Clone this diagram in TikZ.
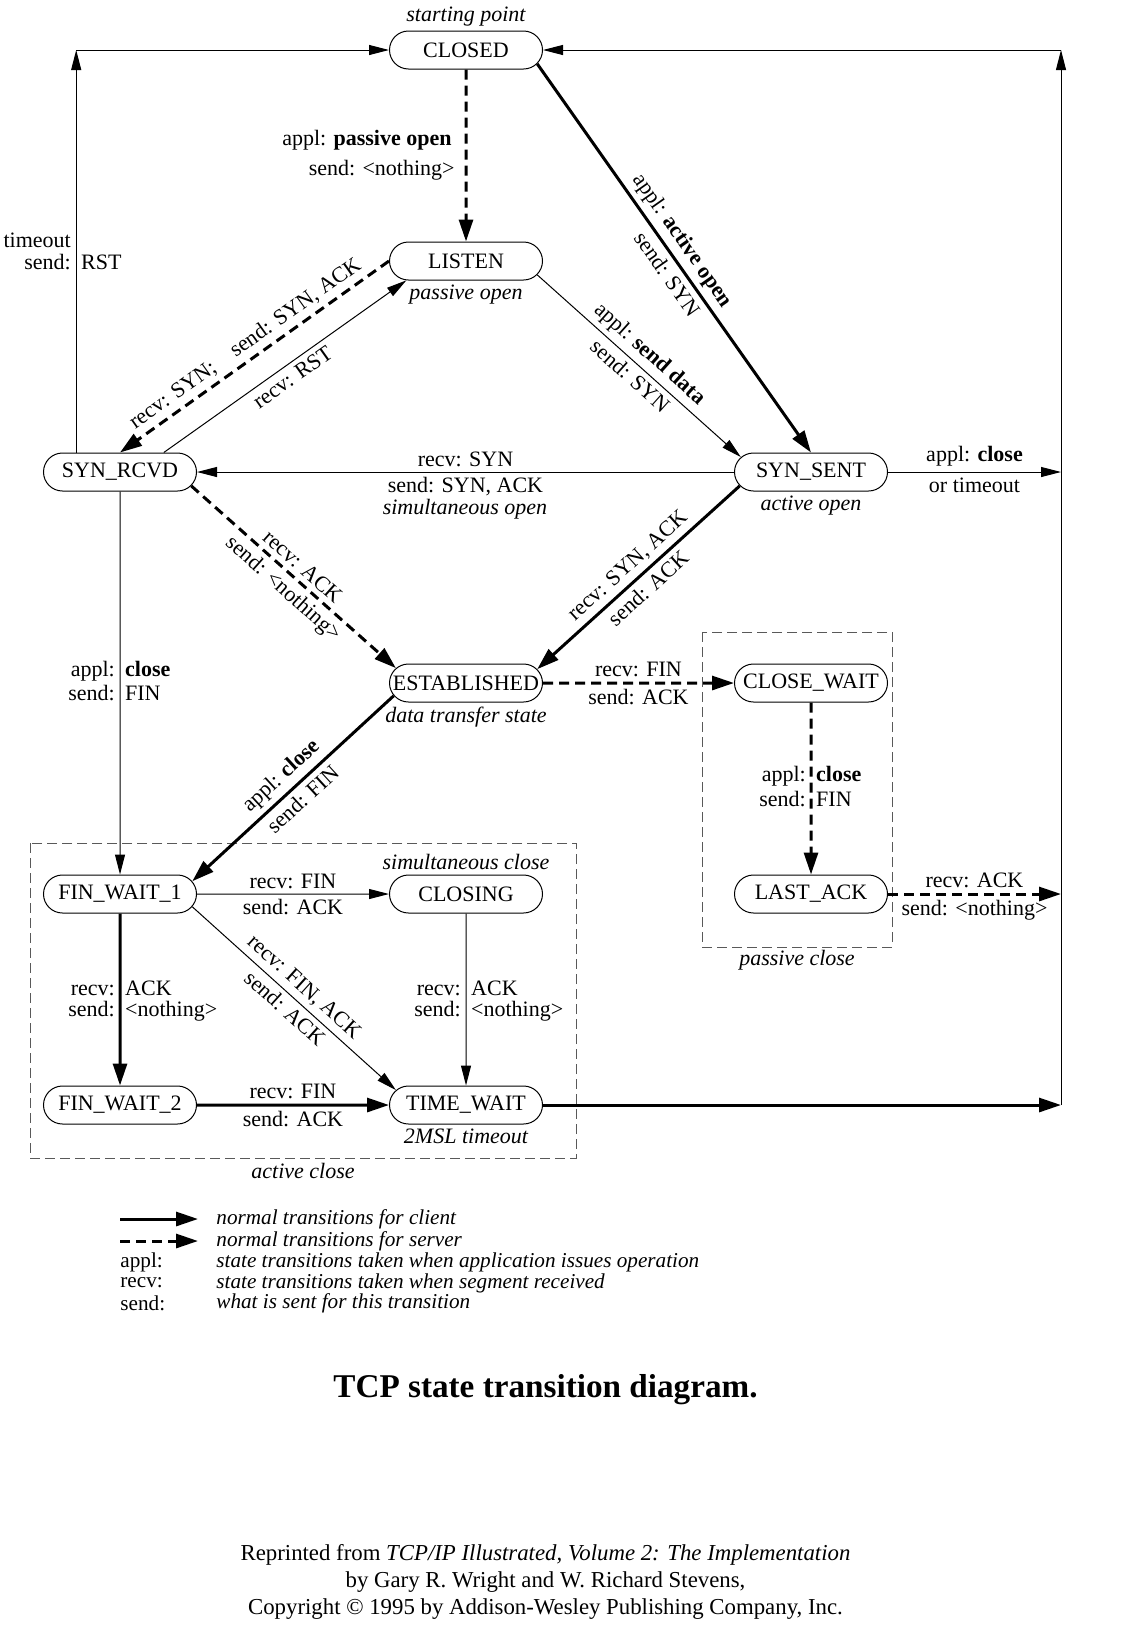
\documentclass[tikz,border=0pt]{standalone}
\usepackage{fontspec}
\setmainfont{Liberation Serif}
\usetikzlibrary{arrows.meta,shapes.misc,calc}
\tikzset{
  fnt/.style={font=\fontsize{11pt}{11pt}\selectfont},
  state/.style={rounded rectangle, draw, line width=0.5pt, minimum width=76.5pt, minimum height=19pt, inner sep=0pt, fnt},
  lbl/.style={fnt, inner sep=2.5pt},
  pair/.style={fnt, inner sep=0pt},
  note/.style={font=\fontsize{11pt}{11pt}\selectfont\itshape, inner sep=2pt},
  leg/.style={font=\fontsize{10.6pt}{10.6pt}\selectfont, inner sep=0pt, anchor=west},
  thinln/.style={line width=0.5pt, -{Triangle[length=10pt,width=5pt]}},
  thickln/.style={line width=1.5pt, -{Triangle[length=11pt,width=7pt]}},
  thickdash/.style={thickln, dash pattern=on 5pt off 3pt},
  groupbox/.style={draw=black!65, line width=0.5pt, dash pattern=on 5pt off 2.5pt},
}
\newcommand{\colpair}[2]{\makebox[0pt][r]{#1\hspace{2.6pt}}\makebox[0pt][l]{\hspace{2.6pt}#2}}
\begin{document}
\begin{tikzpicture}[x=0.5pt, y=-0.5pt]
\useasboundingbox (0,0) rectangle (1142,1634);
% states
\node[state] (CLOSED) at (466,50) {CLOSED};
\node[state] (LISTEN) at (466,261) {LISTEN};
\node[state] (SYNRCVD) at (120,472) {SYN\_RCVD};
\node[state] (SYNSENT) at (811,472) {SYN\_SENT};
\node[state] (ESTAB) at (466,683) {ESTABLISHED};
\node[state] (CLOSEWAIT) at (811,683) {CLOSE\_WAIT};
\node[state] (FINWAIT1) at (120,894) {FIN\_WAIT\_1};
\node[state] (CLOSING) at (466,894) {CLOSING};
\node[state] (LASTACK) at (811,894) {LAST\_ACK};
\node[state] (FINWAIT2) at (120,1105) {FIN\_WAIT\_2};
\node[state] (TIMEWAIT) at (466,1105) {TIME\_WAIT};
% notes
\node[note, anchor=south] (nstart) at (CLOSED.north) {starting point};
\node[note, anchor=north] (npo) at (LISTEN.south) {passive open};
\node[note, anchor=north] (nao) at (SYNSENT.south) {active open};
\node[note, anchor=north] (ndt) at (ESTAB.south) {data transfer state};
\node[note, anchor=south] (nsc) at (CLOSING.north) {simultaneous close};
\node[note, anchor=north] (nmsl) at (TIMEWAIT.south) {2MSL timeout};
\node[note] (nso) at (465,509) {simultaneous open};
% group boxes
\draw[groupbox] (30,843) rectangle (576,1158);
\node[note] (nac) at (303,1171) {active close};
\draw[groupbox] (702,632) rectangle (892,947);
\node[note] (npc) at (797,960) {passive close};
% outer frame coordinates
\coordinate (R) at (1061,0);
\coordinate (TL) at (SYNRCVD.156 |- CLOSED.west);
\coordinate (TR) at (R |- CLOSED.east);
\coordinate (RS) at (R |- SYNSENT.east);
\coordinate (RL) at (R |- LASTACK.east);
\coordinate (RT) at (R |- TIMEWAIT.east);
% timeout from SYN_RCVD
\draw[thinln] (SYNRCVD.156) -- (TL);
\draw[thinln] (TL) -- (CLOSED.west);
\node[pair] (ltime) at (76,240) {\colpair{timeout}{}};
\node[pair] (lrst) at (76,262) {\colpair{send:}{RST}};
% right frame
\draw[thinln] (RT) -- (TR);
\draw[thinln] (TR) -- (CLOSED.east);
% CLOSED -> LISTEN
\draw[thickdash] (CLOSED) -- (LISTEN);
\node[lbl, anchor=east, inner sep=0pt] (lpo1) at (452,140) {appl: \textbf{passive open}};
\node[lbl, anchor=east, inner sep=0pt] (lpo2) at (455,170) {send: <nothing>};
% CLOSED -> SYN_SENT
\draw[thickln] (CLOSED.-11) -- (SYNSENT.north)
  node[lbl, sloped, above, pos=0.48] (lao1) {appl: \textbf{active open}}
  node[lbl, sloped, below, pos=0.52] (lao2) {send: SYN};
% LISTEN -> SYN_SENT
\draw[thinln] (LISTEN.-11) -- (SYNSENT.168)
  node[lbl, sloped, above, pos=0.5] (lsd1) {appl: \textbf{send data}}
  node[lbl, sloped, below, pos=0.5] (lsd2) {send: SYN};
% LISTEN -> SYN_RCVD
\draw[thickdash] (LISTEN.west) -- (SYNRCVD.north)
  node[lbl, sloped, above, pos=0.5] (lsyn) {recv: SYN;\quad send: SYN, ACK};
% SYN_RCVD -> LISTEN
\draw[thinln] (SYNRCVD.24) -- (LISTEN.198)
  node[lbl, sloped, below, pos=0.5] (lrst2) {recv: RST};
% SYN_SENT -> SYN_RCVD
\draw[thinln] (SYNSENT.west) -- (SYNRCVD.east)
  node[lbl, above, midway] (lss1) {recv: SYN}
  node[lbl, below, midway] (lss2) {send: SYN, ACK};
% SYN_SENT -> right frame
\draw[thinln] (SYNSENT.east) -- (RS)
  node[lbl, above, midway] (lct1) {appl: \textbf{close}}
  node[lbl, below, midway] (lct2) {or timeout};
% SYN_RCVD -> ESTABLISHED
\draw[thickdash] (SYNRCVD.-11) -- (ESTAB.168)
  node[lbl, sloped, above, pos=0.5] (lra1) {recv: ACK}
  node[lbl, sloped, below, pos=0.5] (lra2) {send: <nothing>};
% SYN_SENT -> ESTABLISHED
\draw[thickln] (SYNSENT.191) -- (ESTAB.11)
  node[lbl, sloped, above, pos=0.5] (lsa1) {recv: SYN, ACK}
  node[lbl, sloped, below, pos=0.5] (lsa2) {send: ACK};
% SYN_RCVD -> FIN_WAIT_1
\draw[thinln] (SYNRCVD) -- (FINWAIT1);
\node[pair] (lcf1) at (120,671) {\colpair{appl:}{\textbf{close}}};
\node[pair] (lcf2) at (120,693) {\colpair{send:}{FIN}};
% ESTABLISHED -> CLOSE_WAIT
\draw[thickdash] (ESTAB) -- (CLOSEWAIT)
  node[lbl, above, midway] (lfa1) {recv: FIN}
  node[lbl, below, midway] (lfa2) {send: ACK};
% CLOSE_WAIT -> LAST_ACK
\draw[thickdash] (CLOSEWAIT) -- (LASTACK);
\node[pair] (lcw1) at (811,776) {\colpair{appl:}{\textbf{close}}};
\node[pair] (lcw2) at (811,799) {\colpair{send:}{FIN}};
% LAST_ACK -> right frame
\draw[thickdash] (LASTACK.east) -- (RL)
  node[lbl, above, midway] (lla1) {recv: ACK}
  node[lbl, below, midway] (lla2) {send: <nothing>};
% ESTABLISHED -> FIN_WAIT_1
\draw[thickln] (ESTAB.190.6) -- (FINWAIT1.10.6)
  node[lbl, sloped, above, pos=0.5] (lef1) {appl: \textbf{close}}
  node[lbl, sloped, below, pos=0.5] (lef2) {send: FIN};
% FIN_WAIT_1 -> CLOSING
\draw[thinln] (FINWAIT1) -- (CLOSING)
  node[lbl, above, midway] (lfc1) {recv: FIN}
  node[lbl, below, midway] (lfc2) {send: ACK};
% FIN_WAIT_1 -> FIN_WAIT_2
\draw[thickln] (FINWAIT1) -- (FINWAIT2);
\node[pair] (lf21) at (120,988) {\colpair{recv:}{ACK}};
\node[pair] (lf22) at (120,1011) {\colpair{send:}{<nothing>}};
% FIN_WAIT_1 -> TIME_WAIT
\draw[thinln] (FINWAIT1.-10.3) -- (TIMEWAIT.168.8)
  node[lbl, sloped, above, pos=0.5] (lft1) {recv: FIN, ACK}
  node[lbl, sloped, below, pos=0.5] (lft2) {send: ACK};
% CLOSING -> TIME_WAIT
\draw[thinln] (CLOSING) -- (TIMEWAIT);
\node[pair] (lct3) at (466,988) {\colpair{recv:}{ACK}};
\node[pair] (lct4) at (466,1011) {\colpair{send:}{<nothing>}};
% FIN_WAIT_2 -> TIME_WAIT
\draw[thickln] (FINWAIT2) -- (TIMEWAIT)
  node[lbl, above, midway] (lw1) {recv: FIN}
  node[lbl, below, midway] (lw2) {send: ACK};
% TIME_WAIT -> right frame
\draw[thickln] (TIMEWAIT.east) -- (RT);
% legend
\coordinate (la1) at (120,1219);
\coordinate (lb1) at (198,1219);
\coordinate (la2) at (120,1241);
\coordinate (lb2) at (198,1241);
\draw[thickln] (la1) -- (lb1);
\draw[thickdash] (la2) -- (lb2);
\node[leg] (lg1) at (216,1219) {\itshape normal transitions for client};
\node[leg] (lg2) at (216,1241) {\itshape normal transitions for server};
\node[leg] (lg3) at (120,1262) {appl:};
\node[leg] (lg4) at (216,1262) {\itshape state transitions taken when application issues operation};
\node[leg] (lg5) at (120,1283) {recv:};
\node[leg] (lg6) at (216,1283) {\itshape state transitions taken when segment received};
\node[leg] (lg7) at (120,1303) {send:};
\node[leg] (lg8) at (216,1303) {\itshape what is sent for this transition};
% title and credits
\node[font=\fontsize{16.6pt}{17pt}\selectfont\bfseries, inner sep=0pt] (title) at (545.5,1390) {TCP state transition diagram.};
\node[font=\fontsize{11.4pt}{13.5pt}\selectfont, align=center, inner sep=0pt] (credits) at (545.5,1582) {Reprinted from \textit{TCP/IP Illustrated, Volume 2: The Implementation}\\by Gary R. Wright and W. Richard Stevens,\\Copyright \textcopyright{} 1995 by Addison-Wesley Publishing Company, Inc.};
\end{tikzpicture}
\end{document}
